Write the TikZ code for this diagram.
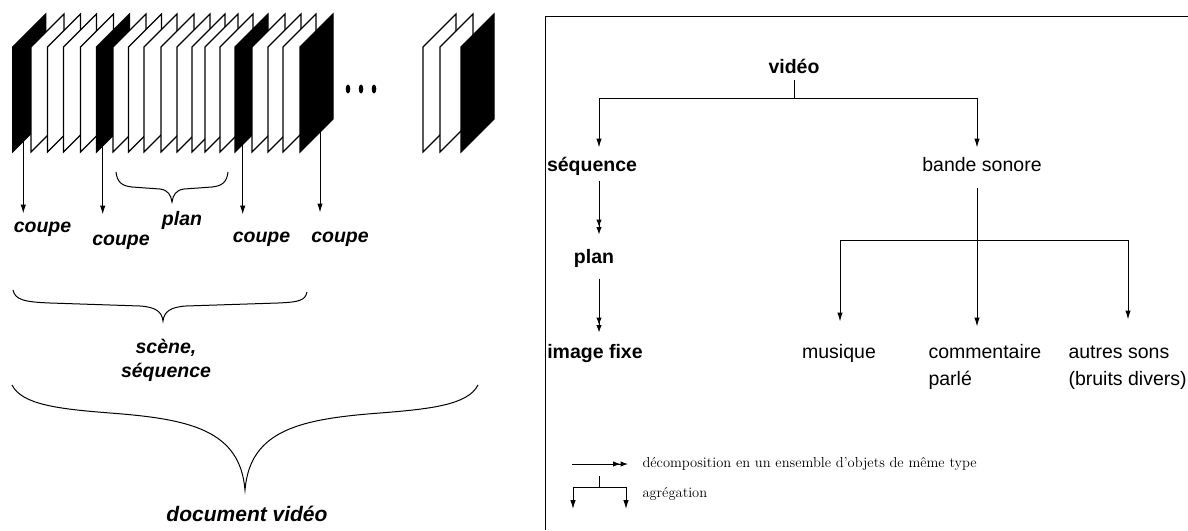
\documentclass[tikz,border=0pt]{standalone}
\usepackage{fontspec}
\newfontfamily\hv{Liberation Sans}
\usetikzlibrary{arrows.meta}
\tikzset{
  agg/.style={-{Latex[length=9pt,width=5.5pt]}},
  dec/.style={-{Latex[length=7.5pt,width=5.5pt]Latex[length=7.5pt,width=5.5pt]}},
  lbl/.style={inner sep=2pt,text height=14pt,text depth=4pt,font=\hv\fontsize{19.5}{22}\selectfont},
  blbl/.style={lbl,font=\hv\bfseries\fontsize{19.5}{22}\selectfont},
  ilbl/.style={lbl,font=\hv\bfseries\itshape\fontsize{19.5}{22}\selectfont},
  leg/.style={inner sep=0pt,anchor=west,font=\fontsize{14.5}{16}\selectfont},
  frm/.style={draw=black,line width=1.1pt,line join=miter},
  brc/.style={line width=1pt},
}
\begin{document}
\begin{tikzpicture}[x=1pt,y=-1pt,line width=1pt]
\useasboundingbox (0,0) rectangle (1188,530);
% ---------- film strip ----------
\foreach \x/\c in {12.7/black,31/white,47.5/white,63.5/white,80.5/white,
  96.5/black,113/white,128.5/white,144/white,161/white,177/white,192/white,205/white,220/white,
  235/black,252/white,268/white,283/white,300/black,
  423/white,440/white,461/black}
  \filldraw[frm,fill=\c] (\x,152) -- (\x,47) -- ({\x+33},14) -- ({\x+33},119) -- cycle;
\fill (348,89) ellipse (2.3 and 4.5);
\fill (361,89) ellipse (2.3 and 4.5);
\fill (374,89) ellipse (2.3 and 4.5);
% cut labels
\node[ilbl] (c1) at (42.5,227) {coupe};
\node[ilbl] (c2) at (121,240) {coupe};
\node[ilbl] (c3) at (261.5,237) {coupe};
\node[ilbl] (c4) at (340,237) {coupe};
\node[ilbl] (pl) at (182,220) {plan};
\coordinate (cs1) at (23.3,141);
\coordinate (cs2) at (102.7,146);
\coordinate (cs3) at (242.7,144);
\coordinate (cs4) at (320,132);
\draw[agg,shorten >=2pt] (cs1) -- (cs1 |- c1.north);
\draw[agg,shorten >=14pt] (cs2) -- (cs2 |- c2.north);
\draw[agg,shorten >=11pt] (cs3) -- (cs3 |- c3.north);
\draw[agg,shorten >=13pt] (cs4) -- (cs4 |- c4.north);
% plan brace
\draw[brc] (116,172) .. controls (117,182) and (122,186) .. (132,187) -- (160,189)
  .. controls (168,190) and (171,195) .. (172,202)
  .. controls (173,195) and (176,190) .. (184,189) -- (212,187)
  .. controls (222,186) and (227,182) .. (228,172);
% scene brace
\draw[brc] (13,290) .. controls (15,300) and (25,302) .. (50,303) -- (140,306)
  .. controls (156,307) and (162,312) .. (163,321)
  .. controls (164,312) and (170,307) .. (186,306) -- (278,303)
  .. controls (301,302) and (305,300) .. (307,292);
\node[ilbl] (sc1) at (166,348) {scène,};
\node[ilbl] (sc2) at (166,372) {séquence};
% document brace
\draw[brc] (12,385) .. controls (22,405) and (60,409) .. (110,413)
  .. controls (190,419) and (240,430) .. (245,490)
  .. controls (250,430) and (300,419) .. (380,413)
  .. controls (430,409) and (468,405) .. (478,385);
\node[ilbl,font=\hv\bfseries\itshape\fontsize{21}{24}\selectfont] (doc) at (247,516) {document vidéo};
% ---------- right panel ----------
\draw[line width=1pt] (545,530) -- (545,16) -- (1188,16);
\node[blbl] (video) at (794,68) {vidéo};
\node[blbl] (seq) at (592,166) {séquence};
\node[lbl] (bande) at (982,166) {bande sonore};
\node[blbl] (plan) at (594,258) {plan};
\node[blbl] (img) at (595,353) {image fixe};
\node[lbl] (mus) at (839,353) {musique};
\node[lbl,anchor=west] (com1) at (926,353) {commentaire};
\node[lbl,anchor=west] (com2) at (926,380) {parlé};
\node[lbl,anchor=west] (aut1) at (1066,353) {autres sons};
\node[lbl,anchor=west] (aut2) at (1066,380) {(bruits divers)};
\coordinate (j1) at (794,98);
\coordinate (sqA) at (599,98);
\coordinate (bsA) at (977,98);
\draw (video.south) -- (j1);
\draw (sqA) -- (bsA);
\draw[agg,shorten >=7pt] (sqA) -- (sqA |- seq.north);
\draw[agg,shorten >=7pt] (bsA) -- (bsA |- bande.north);
\draw[dec,shorten <=3pt,shorten >=12pt] (seq.south -| sqA) -- (plan.north -| sqA);
\draw[dec,shorten <=9pt,shorten >=9pt] (plan.south -| sqA) -- (img.north -| sqA);
\coordinate (aM) at (840,240);
\coordinate (aC) at (977,240);
\coordinate (aA) at (1128,240);
\draw[shorten <=10pt] (bande.south -| aC) -- (aC);
\draw (aM) -- (aA);
\draw[agg,shorten >=20pt] (aM) -- (aM |- mus.north);
\draw[agg,shorten >=15pt] (aC) -- (aC |- com1.north);
\draw[agg,shorten >=22pt] (aA) -- (aA |- aut1.north);
% legend
\node[leg] (lg1) at (642,464) {décomposition en un ensemble d'objets de même type};
\node[leg] (lg2) at (642,494) {agrégation};
\coordinate (ld) at (572,464);
\draw[dec,shorten >=14pt] (ld) -- (lg1.west);
\coordinate (lt) at (599,476);
\coordinate (lj) at (599,487);
\coordinate (ll) at (573,487);
\coordinate (lr) at (626,487);
\coordinate (lle) at (573,509);
\coordinate (lre) at (626,509);
\draw (lt) -- (lj);
\draw (ll) -- (lr);
\draw[agg] (ll) -- (lle);
\draw[agg] (lr) -- (lre);
\end{tikzpicture}
\end{document}
